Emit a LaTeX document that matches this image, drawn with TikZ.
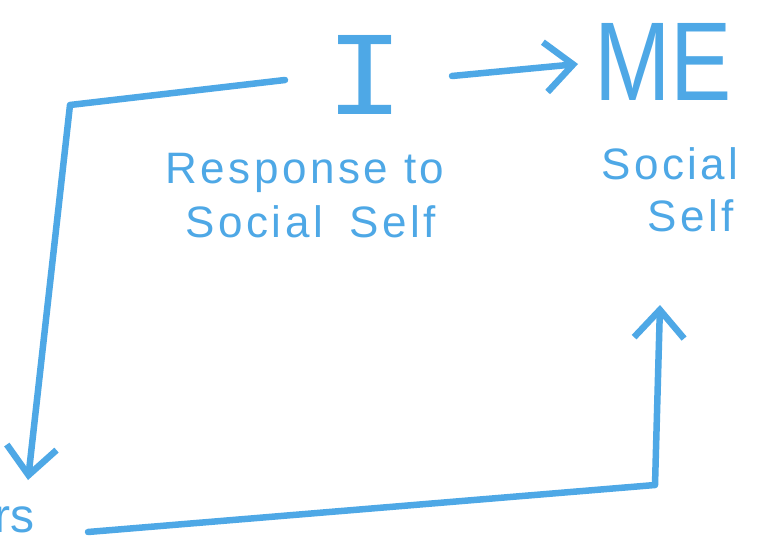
\documentclass[tikz,border=0pt]{standalone}
\usepackage{fontspec}
\setmainfont{Liberation Sans}
\newfontfamily\monoI{Liberation Mono}
\newfontfamily\spaced[LetterSpace=8]{Liberation Sans}
\usetikzlibrary{arrows.meta}
\definecolor{marker}{RGB}{78,168,230}
\tikzset{
  pen/.style={draw=marker, line width=6.5pt, line cap=round, line join=round},
  barb/.style={-{Straight Barb[length=28pt,width=50pt,line width=6.5pt]}},
  hand/.style={text=marker, inner sep=0pt, font=\fontsize{44}{54}\selectfont\spaced, align=left},
  big/.style={text=marker, inner sep=0pt, font=\fontsize{112}{112}\selectfont}
}
\begin{document}
\begin{tikzpicture}[x=1pt,y=-1pt]
\useasboundingbox[fill=white] (0,0) rectangle (768,545);
% main terms
\node[big, font=\fontsize{120}{120}\selectfont\monoI, xscale=1.1] (I) at (365,75) {I};
\node[big, xscale=0.82] (ME) at (663,62) {ME};
% descriptions
\node[hand] (resp) at (305,196) {Response to\\\hspace*{0.45em}Social\hspace{0.6em}Self};
\node[hand, font=\fontsize{44}{52}\selectfont\spaced] (soc) at (670,190) {Social\\\hspace*{1.05em}Self};
\node[hand, anchor=west, font=\fontsize{48}{48}\selectfont] (rs) at (-6,520) {rs};
% coordinates for connectors
\coordinate (a0) at (452,76);
\coordinate (a1) at (578,64);
\coordinate (l0) at (285,80);
\coordinate (l1) at (70,105);
\coordinate (l2) at (28,480);
\coordinate (b0) at (88,532);
\coordinate (b1) at (655,485);
\coordinate (b2) at (660,305);
% arrows
\draw[pen, barb] (a0) -- (a1);
\draw[pen, barb] (l0) -- (l1) -- (l2);
\draw[pen, barb] (b0) -- (b1) -- (b2);
\end{tikzpicture}
\end{document}
